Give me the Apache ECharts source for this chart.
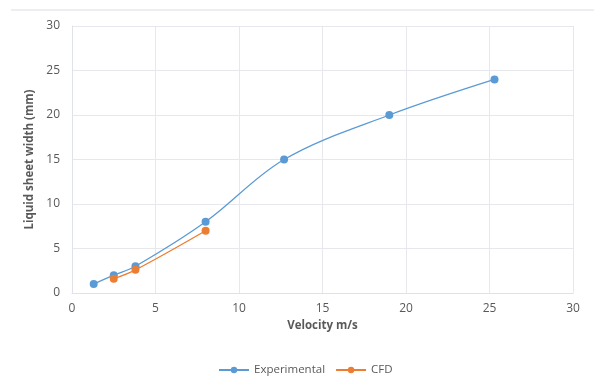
<!DOCTYPE html>
<html><head><meta charset="utf-8">
<script src="https://cdn.jsdelivr.net/npm/echarts@6/dist/echarts.min.js"></script>
<style>html,body{margin:0;padding:0;background:#fff}#c{width:594px;height:386px}</style>
</head><body><div id="c"></div>
<script>
var expX = [1.3, 2.5, 3.8, 8, 12.7, 19, 25.3];
var expY = [1, 2, 3, 8, 15, 20, 24];
var cfdX = [2.5, 3.8, 8];
var cfdY = [1.6, 2.6, 7];
var xTicks = [0, 5, 10, 15, 20, 25, 30];
var yTicks = [0, 5, 10, 15, 20, 25, 30];
var seriesNames = ['Experimental', 'CFD'];

function pairs(xs, ys){ return xs.map(function(x,i){return [x, ys[i]];}); }
var FONT = '"Open Sans", "Noto Sans", sans-serif';
var chart = echarts.init(document.getElementById('c'), null, {renderer:'canvas'});
chart.setOption({
  animation:false,
  textStyle:{fontFamily:FONT},
  graphic:[{type:'line', shape:{x1:11,y1:10,x2:594,y2:10}, style:{stroke:'#e6e8ee', lineWidth:1.5}}],
  grid:{left:72, right:21, top:26, bottom:93},
  legend:{top:359, left:213, itemWidth:30, itemHeight:8, itemGap:10,
    textStyle:{color:'#595959', fontSize:11.5, fontFamily:FONT},
    data:seriesNames},
  xAxis:{type:'value', min:xTicks[0], max:xTicks[xTicks.length-1], interval:5,
    name:'Velocity m/s', nameLocation:'middle', nameGap:27,
    nameTextStyle:{color:'#595959', fontWeight:'bold', fontSize:11.5, fontFamily:FONT},
    axisLine:{show:true, lineStyle:{color:'#dfe2e8'}}, axisTick:{show:false},
    axisLabel:{color:'#595959', fontSize:12, margin:10},
    splitLine:{show:true, lineStyle:{color:'#e6e8ee'}}},
  yAxis:{type:'value', min:yTicks[0], max:yTicks[yTicks.length-1], interval:5,
    name:'Liquid sheet width (mm)', nameLocation:'middle', nameGap:32,
    nameTextStyle:{color:'#595959', fontWeight:'bold', fontSize:11.5, fontFamily:FONT},
    axisLine:{show:true, lineStyle:{color:'#dfe2e8'}}, axisTick:{show:false},
    axisLabel:{color:'#595959', fontSize:12, margin:12},
    splitLine:{show:true, lineStyle:{color:'#e6e8ee'}}},
  series:[
    {name:seriesNames[0], type:'line', data:pairs(expX,expY), smooth:0.35,
     symbol:'circle', symbolSize:8, itemStyle:{color:'#5B9BD5'}, lineStyle:{color:'#5B9BD5', width:1.3}},
    {name:seriesNames[1], type:'line', data:pairs(cfdX,cfdY), smooth:0.35,
     symbol:'circle', symbolSize:8, itemStyle:{color:'#ED7D31'}, lineStyle:{color:'#ED7D31', width:1.3}}
  ]
});
</script></body></html>
